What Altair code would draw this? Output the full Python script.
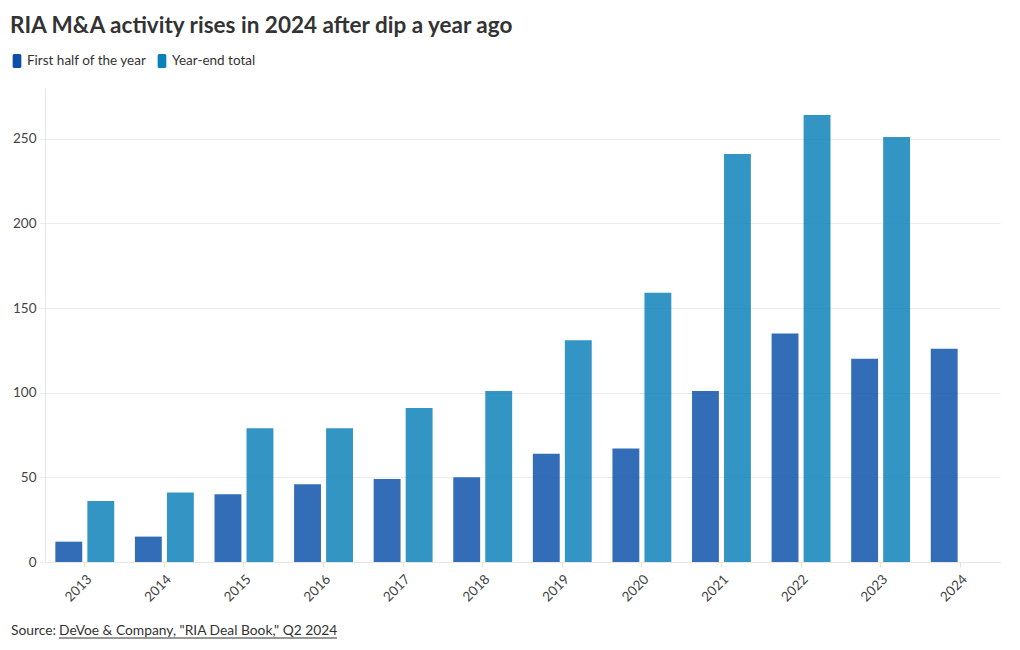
import altair as alt
import pandas as pd

years = ["2013", "2014", "2015", "2016", "2017", "2018", "2019", "2020", "2021", "2022", "2023", "2024"]
first_half = [12, 15, 40, 46, 49, 50, 64, 67, 101, 135, 120, 126]
year_end = [36, 41, 79, 79, 91, 101, 131, 159, 241, 264, 251, None]
series_names = ["First half of the year", "Year-end total"]
series_colors = ["#0b4fa8", "#0a80b8"]
y_ticks = [0, 50, 100, 150, 200, 250]

rows = []
for i, yr in enumerate(years):
    rows.append({"year": yr, "series": series_names[0], "value": first_half[i]})
    if year_end[i] is not None:
        rows.append({"year": yr, "series": series_names[1], "value": year_end[i]})
df = pd.DataFrame(rows)

FONT = "Lato"
sym = ("M-0.4,-1 H0.4 Q0.62,-1 0.62,-0.78 V0.78 Q0.62,1 0.4,1 H-0.4 "
       "Q-0.62,1 -0.62,0.78 V-0.78 Q-0.62,-1 -0.4,-1 Z")

bars = alt.Chart(df).mark_bar(opacity=0.83).encode(
    x=alt.X("year:N", sort=years, title=None,
            scale=alt.Scale(paddingInner=0.26, paddingOuter=0.13),
            axis=alt.Axis(labelAngle=-45, labelFont=FONT, labelFontSize=13.5,
                          labelColor="#444444", tickColor="#f8dcc0", tickSize=5,
                          domainColor="#e6e6e6", grid=False, labelPadding=5)),
    xOffset=alt.XOffset("series:N", sort=series_names,
                        scale=alt.Scale(paddingInner=0.16)),
    y=alt.Y("value:Q", title=None,
            scale=alt.Scale(domain=[0, 280], nice=False),
            axis=alt.Axis(values=y_ticks, labelFont=FONT, labelFontSize=13.5,
                          labelColor="#444444", gridColor="#ececec",
                          domainColor="#e6e6e6", ticks=True, tickColor="#ececec",
                          tickSize=6, labelPadding=3)),
    color=alt.Color("series:N", sort=series_names,
                    scale=alt.Scale(domain=series_names, range=series_colors),
                    legend=alt.Legend(title=None, orient="none", direction="horizontal",
                                      legendX=-35, legendY=-34, symbolType=sym,
                                      symbolSize=196, symbolOpacity=1,
                                      labelFont=FONT, labelFontSize=13.5,
                                      labelColor="#333333", symbolStrokeWidth=0,
                                      columnPadding=8, labelOffset=3)),
)

src_df = pd.DataFrame({"t": ["Source:"]})
source1 = alt.Chart(src_df).mark_text(
    align="left", baseline="middle", font=FONT, fontSize=13.8, color="#333333"
).encode(x=alt.value(-34), y=alt.value(543), text="t:N")

link_df = pd.DataFrame({"t": ["DeVoe & Company, \"RIA Deal Book,\" Q2 2024"]})
source2 = alt.Chart(link_df).mark_text(
    align="left", baseline="middle", font=FONT, fontSize=13.8, color="#333333"
).encode(x=alt.value(14), y=alt.value(543), text="t:N")

underline = alt.Chart(link_df).mark_rule(color="#333333", strokeWidth=1).encode(
    x=alt.value(14), x2=alt.value(292), y=alt.value(550)
)

chart = alt.layer(bars, source1, source2, underline).properties(
    width=955, height=474,
    padding={"left": 10, "top": 14, "right": 20, "bottom": 5},
    title=alt.TitleParams("RIA M&A activity rises in 2024 after dip a year ago",
                          anchor="start", frame="bounds", font=FONT, fontSize=22.5,
                          fontWeight="bold", color="#333333", offset=17),
).configure_view(stroke=None)

chart.save("out.html", embed_options={"renderer": "svg", "actions": False})
